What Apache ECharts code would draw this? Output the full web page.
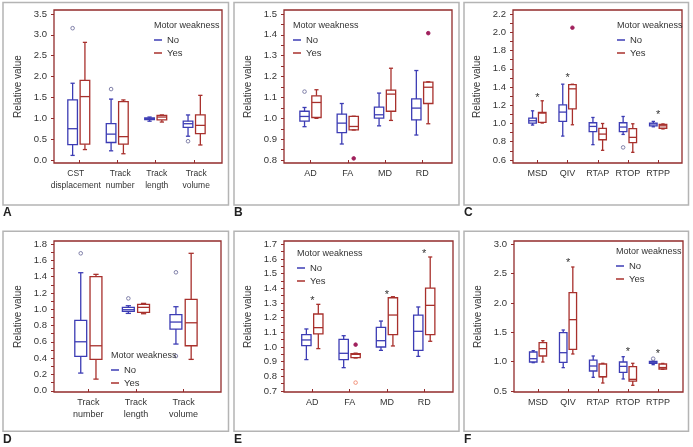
<!DOCTYPE html>
<html>
<head>
<meta charset="utf-8">
<script src="https://cdn.jsdelivr.net/npm/echarts@6/dist/echarts.min.js"></script>
<style>
  html, body { margin: 0; padding: 0; background: #fff; }
  #main { width: 693px; height: 447px; }
</style>
</head>
<body>
<div id="main"></div>
<script>
// ---- data: [min, Q1, median, Q3, max] ----
// A
var catsA = ['CST\ndisplacement', 'Track\nnumber', 'Track\nlength', 'Track\nvolume'];
var noA = [[0.11, 0.37, 0.75, 1.44, 1.84], [0.22, 0.42, 0.62, 0.87, 1.46], [0.93, 0.97, 0.99, 1.01, 1.03], [0.57, 0.78, 0.87, 0.93, 1.08]];
var yesA = [[0.25, 0.38, 1.52, 1.91, 2.82], [0.15, 0.38, 0.56, 1.40, 1.44], [0.91, 0.96, 1.03, 1.07, 1.08], [0.36, 0.63, 0.83, 1.08, 1.55]];
var noOutA = [[0, 3.16], [1, 1.70], [3, 0.45]];
var yLabelsA = [0, 0.5, 1, 1.5, 2, 2.5, 3, 3.5];

// B
var catsB = ['AD', 'FA', 'MD', 'RD'];
var noB = [[0.96, 0.987, 1.009, 1.034, 1.052], [0.877, 0.932, 0.977, 1.02, 1.071], [0.964, 1.001, 1.017, 1.054, 1.121], [0.92, 0.993, 1.049, 1.093, 1.229]];
var yesB = [[1.0, 1.004, 1.076, 1.108, 1.137], [0.944, 0.945, 0.961, 1.009, 1.01], [0.99, 1.034, 1.116, 1.135, 1.24], [0.974, 1.071, 1.149, 1.173, 1.175]];
var noOutB = [[0, 1.128]];
var yesOutB = [[1, 0.808], [3, 1.408]];
var yLabelsB = [0.8, 0.9, 1.0, 1.1, 1.2, 1.3, 1.4, 1.5];

// C
var catsC = ['MSD', 'QIV', 'RTAP', 'RTOP', 'RTPP'];
var noC = [[0.983, 1.005, 1.03, 1.059, 1.139], [0.862, 1.023, 1.125, 1.205, 1.431], [0.768, 0.91, 0.968, 1.008, 1.066], [0.88, 0.91, 0.961, 1.008, 1.077], [0.964, 0.975, 0.995, 1.005, 1.023]];
var yesC = [[1.005, 1.012, 1.114, 1.121, 1.249], [0.986, 1.161, 1.38, 1.427, 1.43], [0.706, 0.822, 0.884, 0.946, 1.0], [0.684, 0.79, 0.848, 0.943, 0.997], [0.94, 0.948, 0.975, 0.99, 0.995]];
var noOutC = [[3, 0.738]];
var yesOutC = [[1, 2.05]];
var starC = [[0, 1.307], [1, 1.522], [4, 1.117]];
var yLabelsC = [0.6, 0.8, 1.0, 1.2, 1.4, 1.6, 1.8, 2.0, 2.2];

// D
var catsD = ['Track\nnumber', 'Track\nlength', 'Track\nvolume'];
var noD = [[0.217, 0.421, 0.601, 0.863, 1.448], [0.949, 0.974, 0.994, 1.023, 1.043], [0.573, 0.757, 0.843, 0.933, 1.031]];
var yesD = [[0.143, 0.385, 0.552, 1.399, 1.428], [0.945, 0.962, 1.023, 1.06, 1.072], [0.385, 0.552, 0.834, 1.121, 1.686]];
var noOutD = [[0, 1.686], [1, 1.133], [2, 1.453], [2, 0.426]];
var yLabelsD = [0, 0.2, 0.4, 0.6, 0.8, 1.0, 1.2, 1.4, 1.6, 1.8];

// E
var catsE = ['AD', 'FA', 'MD', 'RD'];
var noE = [[0.914, 1.009, 1.048, 1.084, 1.123], [0.859, 0.914, 0.957, 1.052, 1.077], [0.977, 1.0, 1.043, 1.134, 1.177], [0.936, 0.977, 1.107, 1.218, 1.273]];
var yesE = [[0.989, 1.089, 1.132, 1.225, 1.291], [0.925, 0.928, 0.95, 0.955, 0.958], [1.007, 1.084, 1.218, 1.336, 1.343], [1.039, 1.084, 1.284, 1.402, 1.614]];
var yesOutE = [[1, 1.016]];
var yesOpenE = [[1, 0.757]];
var starE = [[0, 1.327], [2, 1.37], [3, 1.648]];
var yLabelsE = [0.7, 0.8, 0.9, 1.0, 1.1, 1.2, 1.3, 1.4, 1.5, 1.6, 1.7];

// F
var catsF = ['MSD', 'QIV', 'RTAP', 'RTOP', 'RTPP'];
var noF = [[0.983, 0.994, 1.051, 1.165, 1.188], [0.898, 0.989, 1.153, 1.494, 1.54], [0.733, 0.841, 0.926, 1.028, 1.097], [0.705, 0.818, 0.92, 0.994, 1.085], [0.949, 0.972, 0.99, 1.006, 1.01]];
var yesF = [[0.994, 1.097, 1.222, 1.324, 1.358], [1.131, 1.21, 1.716, 2.176, 2.614], [0.636, 0.74, 0.745, 0.96, 0.972], [0.597, 0.67, 0.699, 0.915, 0.972], [0.87, 0.875, 0.9, 0.96, 0.97]];
var noOutF = [[4, 1.051]];
var starF = [[1, 2.72], [3, 1.205], [4, 1.17]];
var yLabelsF = [0.5, 1.0, 1.5, 2.0, 2.5, 3.0];

// ---- look ----
var FONT = "'Liberation Sans', Arial, sans-serif";
var NO_COLOR = '#3c3cb4';
var YES_COLOR = '#a8302c';
var FRAME = '#922b2b';
var TEXT = '#333';

function steps(a, b, s) {
  var out = [];
  for (var v = a; v <= b + 1e-9; v += s) out.push(Math.round(v * 1000) / 1000);
  return out;
}

// layout of each panel (pixels) and axis extents
var panels = [
  {letter: 'A', frame: [3, 2.5, 225.5, 202.5], grid: [54, 10, 168, 153], x: [-0.644, 3.723], y: [-0.072, 3.596],
   cats: catsA, no: noA, yes: yesA, noOut: noOutA, yesOut: [], yesOpen: [], star: [], labels: yLabelsA, ticks: yLabelsA,
   leg: [154, 20], shift: [-3, 3, 1, 2], catSize: 8.5, splitFirst: true},
  {letter: 'B', frame: [234, 2.5, 225, 202.5], grid: [284, 10, 168, 153], x: [-0.711, 3.797], y: [0.786, 1.519],
   cats: catsB, no: noB, yes: yesB, noOut: noOutB, yesOut: yesOutB, yesOpen: [], star: [], labels: yLabelsB, ticks: steps(0.8, 1.5, 0.05),
   leg: [293, 20]},
  {letter: 'C', frame: [464, 2.5, 224.5, 202.5], grid: [513, 10, 169, 153], x: [-0.808, 4.79], y: [0.567, 2.244],
   cats: catsC, no: noC, yes: yesC, noOut: noOutC, yesOut: yesOutC, yesOpen: [], star: starC, labels: yLabelsC, ticks: steps(0.6, 2.2, 0.1),
   leg: [617, 20]},
  {letter: 'D', frame: [3, 231.3, 225.5, 200], grid: [54, 241, 167, 151], x: [-0.722, 2.787], y: [-0.015, 1.837],
   cats: catsD, no: noD, yes: yesD, noOut: noOutD, yesOut: [], yesOpen: [], star: [], labels: yLabelsD, ticks: steps(0, 1.8, 0.1),
   leg: [111, 350]},
  {letter: 'E', frame: [234, 231.3, 225, 200], grid: [284, 241, 169, 151], x: [-0.76, 3.771], y: [0.693, 1.723],
   cats: catsE, no: noE, yes: yesE, noOut: [], yesOut: yesOutE, yesOpen: yesOpenE, star: starE, labels: yLabelsE, ticks: steps(0.7, 1.7, 0.05),
   leg: [297, 248]},
  {letter: 'F', frame: [464, 231.3, 224.5, 200], grid: [514, 241, 169, 151], x: [-0.802, 4.835], y: [0.483, 3.057],
   cats: catsF, no: noF, yes: yesF, noOut: noOutF, yesOut: [], yesOpen: [], star: starF, labels: yLabelsF, ticks: yLabelsF,
   leg: [616, 246]}
];

function boxRenderer(side) {
  return function (params, api) {
    var band = api.size([1, 0])[0];
    var bw = band * 0.25, cw = band * 0.11;
    var x = api.value(0);
    var p = [1, 2, 3, 4, 5].map(function (j) { return api.coord([x, api.value(j)]); });
    var cx = p[0][0] + side * band * 0.16;
    var color = api.visual('color');
    function st() { return {stroke: color, fill: null, lineWidth: 1.3}; }
    return {type: 'group', children: [
      {type: 'line', shape: {x1: cx, y1: p[0][1], x2: cx, y2: p[1][1]}, style: st()},
      {type: 'line', shape: {x1: cx, y1: p[3][1], x2: cx, y2: p[4][1]}, style: st()},
      {type: 'line', shape: {x1: cx - cw / 2, y1: p[0][1], x2: cx + cw / 2, y2: p[0][1]}, style: st()},
      {type: 'line', shape: {x1: cx - cw / 2, y1: p[4][1], x2: cx + cw / 2, y2: p[4][1]}, style: st()},
      {type: 'rect', shape: {x: cx - bw / 2, y: p[3][1], width: bw, height: p[1][1] - p[3][1]}, style: st()},
      {type: 'line', shape: {x1: cx - bw / 2, y1: p[2][1], x2: cx + bw / 2, y2: p[2][1]}, style: st()}
    ]};
  };
}

function pointRenderer(side, stroke, fill, r) {
  return function (params, api) {
    var band = api.size([1, 0])[0];
    var c = api.coord([api.value(0), api.value(1)]);
    return {type: 'circle', shape: {cx: c[0] + side * band * 0.16, cy: c[1], r: r},
      style: {stroke: stroke, fill: fill, lineWidth: 0.9}};
  };
}

function starRenderer(params, api) {
  var c = api.coord([api.value(0), api.value(1)]);
  return {type: 'text', x: c[0], y: c[1] + 2,
    style: {text: '*', fill: TEXT, font: '11px ' + FONT, align: 'center', verticalAlign: 'middle'}};
}

var grids = [], xAxes = [], extraX = [], yAxes = [], series = [], legends = [], titles = [], graphics = [];

function catAxis(p, i, values, showTicks) {
  var catSize = p.catSize || 9;
  // optional small horizontal nudges of category labels (rich padding)
  var rich = {};
  (p.shift || []).forEach(function (s, k) {
    rich['s' + k] = {fontSize: catSize, lineHeight: 12, color: TEXT, fontFamily: FONT, align: 'center',
      padding: s < 0 ? [0, -2 * s, 0, 0] : [0, 0, 0, 2 * s]};
  });
  return {type: 'value', gridIndex: i, position: 'bottom', min: p.x[0], max: p.x[1],
    axisLine: {show: false, onZero: false}, splitLine: {show: false},
    axisTick: {show: showTicks, inside: true, length: 3, customValues: values, lineStyle: {color: FRAME, width: 1}},
    axisLabel: {customValues: values, hideOverlap: false, showMinLabel: true, showMaxLabel: true,
      formatter: function (v) {
        var k = Math.round(v), txt = p.cats[k];
        if (!p.shift) return txt;
        return txt.split('\n').map(function (s) { return '{s' + k + '|' + s + '}'; }).join('\n');
      },
      rich: rich, fontSize: catSize, lineHeight: 12, margin: 5, color: TEXT, fontFamily: FONT}};
}

panels.forEach(function (p, i) {
  grids.push({left: p.grid[0], top: p.grid[1], width: p.grid[2], height: p.grid[3],
    show: true, borderColor: FRAME, borderWidth: 1.3, backgroundColor: 'transparent'});
  var idx = p.cats.map(function (c, k) { return k; });
  if (p.splitFirst) {
    // long first label gets its own axis so it is not dropped by overlap handling
    xAxes.push(catAxis(p, i, idx.slice(1), true));
    extraX.push(catAxis(p, i, [0], false));
    xAxes[i].axisTick.customValues = idx;
  } else {
    xAxes.push(catAxis(p, i, idx, true));
  }
  yAxes.push({type: 'value', gridIndex: i, position: 'left', min: p.y[0], max: p.y[1],
    axisLine: {show: false, onZero: false}, splitLine: {show: false},
    axisTick: {show: true, length: 3, customValues: p.ticks, lineStyle: {color: FRAME, width: 1}},
    axisLabel: {customValues: p.labels, showMinLabel: true, showMaxLabel: true,
      formatter: function (v) { return v.toFixed(1); },
      fontSize: 9.5, margin: 7, color: TEXT, fontFamily: FONT},
    name: 'Relative value', nameLocation: 'middle', nameGap: 31,
    nameTextStyle: {fontSize: 10, color: TEXT, fontFamily: FONT}});

  function rows(arr) { return arr.map(function (d, k) { return [k].concat(d); }); }
  series.push({type: 'custom', name: 'No', xAxisIndex: i, yAxisIndex: i, data: rows(p.no),
    encode: {x: 0, y: [1, 2, 3, 4, 5]}, itemStyle: {color: NO_COLOR}, renderItem: boxRenderer(-1)});
  series.push({type: 'custom', name: 'Yes', xAxisIndex: i, yAxisIndex: i, data: rows(p.yes),
    encode: {x: 0, y: [1, 2, 3, 4, 5]}, itemStyle: {color: YES_COLOR}, renderItem: boxRenderer(1)});
  series.push({type: 'custom', name: 'outNo', xAxisIndex: i, yAxisIndex: i, data: p.noOut,
    encode: {x: 0, y: 1}, renderItem: pointRenderer(-1, '#7474a0', '#fff', 1.8)});
  series.push({type: 'custom', name: 'outYes', xAxisIndex: i, yAxisIndex: i, data: p.yesOut,
    encode: {x: 0, y: 1}, renderItem: pointRenderer(1, '#a0205c', '#a0205c', 1.8)});
  series.push({type: 'custom', name: 'openYes', xAxisIndex: i, yAxisIndex: i, data: p.yesOpen,
    encode: {x: 0, y: 1}, renderItem: pointRenderer(1, '#f08a70', '#fff', 1.8)});
  series.push({type: 'custom', name: 'star', xAxisIndex: i, yAxisIndex: i, data: p.star,
    encode: {x: 0, y: 1}, renderItem: starRenderer});

  legends.push({data: ['No', 'Yes'], orient: 'vertical', left: p.leg[0], top: p.leg[1] + 13.5,
    icon: 'rect', itemWidth: 8, itemHeight: 1.5, itemGap: 0, padding: 0, selectedMode: false,
    textStyle: {fontSize: 9.5, lineHeight: 13, color: TEXT, fontFamily: FONT}});
  titles.push({text: 'Motor weakness', left: p.leg[0], top: p.leg[1], padding: 0,
    textStyle: {fontSize: 9, lineHeight: 12, fontWeight: 'normal', color: TEXT, fontFamily: FONT}});
  titles.push({text: p.letter, left: p.frame[0], top: p.frame[1] + p.frame[3] + 2, padding: 0,
    textStyle: {fontSize: 12, fontWeight: 'bold', color: '#222', fontFamily: FONT}});
  graphics.push({type: 'rect', shape: {x: p.frame[0], y: p.frame[1], width: p.frame[2], height: p.frame[3]},
    style: {fill: null, stroke: '#b4b4b4', lineWidth: 1.5}, silent: true, z: -1});
});

var myChart = echarts.init(document.getElementById('main'));
myChart.setOption({
  backgroundColor: '#fff',
  animation: false,
  title: titles,
  legend: legends,
  grid: grids,
  xAxis: xAxes.concat(extraX),
  yAxis: yAxes,
  graphic: graphics,
  series: series
});
</script>
</body>
</html>
